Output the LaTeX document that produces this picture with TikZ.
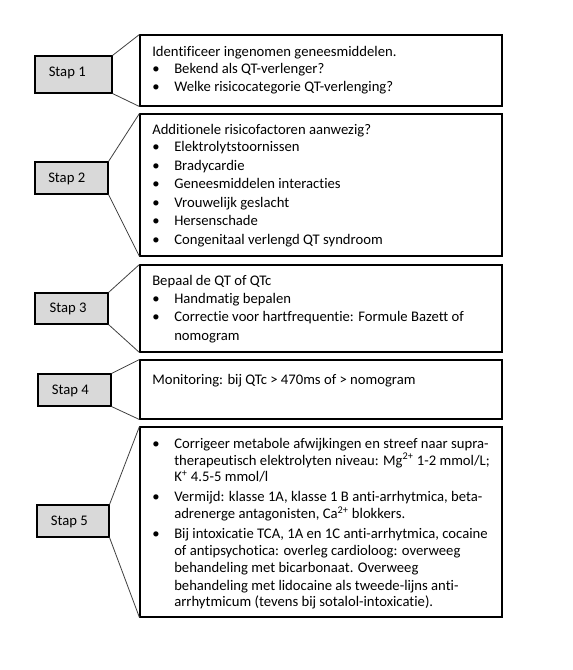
\documentclass[tikz,border=0pt]{standalone}
\usepackage{fontspec}
\setmainfont{Carlito}[Ligatures={NoCommon,NoRequired,NoContextual}]
\usetikzlibrary{fit}
\begin{document}
\begin{tikzpicture}[x=0.75pt,y=-0.75pt,
  rbox/.style={draw=black, line width=0.8pt, inner sep=0pt, fill=white},
  lbox/.style={draw=black, line width=0.8pt, inner sep=0pt, fill=black!15},
  conn/.style={draw=black!75, line width=0.6pt},
  txt/.style={anchor=base west, inner sep=0pt, font=\fontsize{11}{13}\selectfont},
  bul/.style={anchor=base west, inner sep=0pt, font=\fontsize{11}{13}\selectfont}]
\useasboundingbox (0,0) rectangle (573,670);
% Stap 1
\node[lbox, fit={(35,56) (112,93)}] (l1) {};
\node[rbox, fit={(140,35) (502,106)}] (r1) {};
\draw[conn] (l1.north east) -- (r1.north west);
\draw[conn] (l1.south east) -- (r1.south west);
\node[txt] (s1) at (48.5,76.5) {Stap 1};
\node[txt] (t1a) at (152,57) {Identificeer ingenomen geneesmiddelen.};
\node[bul] (b1b) at (152,74) {•};
\node[txt] (t1b) at (174,74) {Bekend als QT-verlenger?};
\node[bul] (b1c) at (152,91.5) {•};
\node[txt] (t1c) at (174,91.5) {Welke risicocategorie QT-verlenging?};
% Stap 2
\node[lbox, fit={(35,162) (108,194)}] (l2) {};
\node[rbox, fit={(140,114) (502,256)}] (r2) {};
\draw[conn] (l2.north east) -- (r2.north west);
\draw[conn] (l2.south east) -- (r2.south west);
\node[txt] (s2) at (48,182.5) {Stap 2};
\node[txt] (t2a) at (152,135) {Additionele risicofactoren aanwezig?};
\node[bul] (b2b) at (152,151.7) {•};
\node[txt] (t2b) at (174,151.7) {Elektrolytstoornissen};
\node[bul] (b2c) at (152,170.4) {•};
\node[txt] (t2c) at (174,170.4) {Bradycardie};
\node[bul] (b2d) at (152,189) {•};
\node[txt] (t2d) at (174,189) {Geneesmiddelen interacties};
\node[bul] (b2e) at (152,207.4) {•};
\node[txt] (t2e) at (174,207.4) {Vrouwelijk geslacht};
\node[bul] (b2f) at (152,225.8) {•};
\node[txt] (t2f) at (174,225.8) {Hersenschade};
\node[bul] (b2g) at (152,244.3) {•};
\node[txt] (t2g) at (174,244.3) {Congenitaal verlengd QT syndroom};
% Stap 3
\node[lbox, fit={(35,293) (108,324)}] (l3) {};
\node[rbox, fit={(140,265) (502,352)}] (r3) {};
\draw[conn] (l3.north east) -- (r3.north west);
\draw[conn] (l3.south east) -- (r3.south west);
\node[txt] (s3) at (49.3,312.3) {Stap 3};
\node[txt] (t3a) at (152,285) {Bepaal de QT of QTc};
\node[bul] (b3b) at (152,303.3) {•};
\node[txt] (t3b) at (174,303.3) {Handmatig bepalen};
\node[bul] (b3c) at (152,321.7) {•};
\node[txt] (t3c) at (174,321.7) {Correctie voor hartfrequentie: Formule Bazett of};
\node[txt] (t3d) at (174,340) {nomogram};
% Stap 4
\node[lbox, fit={(38,374) (111,406)}] (l4) {};
\node[rbox, fit={(140,360) (502,419)}] (r4) {};
\draw[conn] (l4.north east) -- (r4.north west);
\draw[conn] (l4.south east) -- (r4.south west);
\node[txt] (s4) at (51.7,394) {Stap 4};
\node[txt] (t4a) at (152,384.3) {Monitoring: bij QTc > 470ms of > nomogram};
% Stap 5
\node[lbox, fit={(37,505) (109,537)}] (l5) {};
\node[rbox, fit={(140,427) (502,617)}] (r5) {};
\draw[conn] (l5.north east) -- (r5.north west);
\draw[conn] (l5.south east) -- (r5.south west);
\node[txt] (s5) at (50.7,525) {Stap 5};
\node[bul] (b5a) at (152,448.3) {•};
\node[txt] (t5a) at (174,448.3) {Corrigeer metabole afwijkingen en streef naar supra-};
\node[txt] (t5b) at (174,465) {therapeutisch elektrolyten niveau: Mg\textsuperscript{2+} 1-2 mmol/L;};
\node[txt] (t5c) at (174,481.7) {K\textsuperscript{+} 4.5-5 mmol/l};
\node[bul] (b5d) at (152,501.7) {•};
\node[txt] (t5d) at (174,501.7) {Vermijd: klasse 1A, klasse 1 B anti-arrhytmica, beta-};
\node[txt] (t5e) at (174,518.3) {adrenerge antagonisten, Ca\textsuperscript{2+} blokkers.};
\node[bul] (b5f) at (152,538.3) {•};
\node[txt] (t5f) at (174,538.3) {Bij intoxicatie TCA, 1A en 1C anti-arrhytmica, cocaine};
\node[txt] (t5g) at (174,555) {of antipsychotica: overleg cardioloog: overweeg};
\node[txt] (t5h) at (174,572.3) {behandeling met bicarbonaat. Overweeg};
\node[txt] (t5i) at (174,590) {behandeling met lidocaine als tweede-lijns anti-};
\node[txt] (t5j) at (174,606.7) {arrhytmicum (tevens bij sotalol-intoxicatie).};
\end{tikzpicture}
\end{document}
